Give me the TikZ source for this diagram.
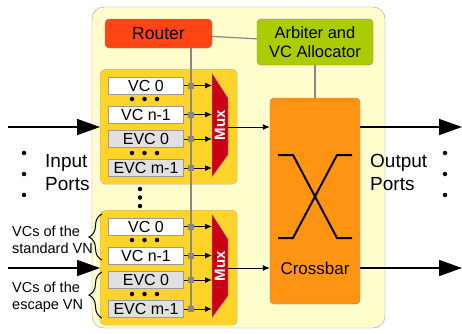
\documentclass[tikz,border=0pt]{standalone}
\usepackage{fontspec}
\setmainfont{Liberation Sans}
\usetikzlibrary{arrows.meta,decorations.pathreplacing}

\definecolor{shell}{HTML}{FFFDCC}
\definecolor{bufgold}{HTML}{FFD42A}
\definecolor{routred}{HTML}{FF4513}
\definecolor{arbgreen}{HTML}{AACC00}
\definecolor{xbarorange}{HTML}{FF9414}
\definecolor{muxred}{HTML}{CC0015}
\definecolor{evcgray}{HTML}{E0E0E0}
\definecolor{wiregray}{HTML}{888888}

\tikzset{
  unit/.style={draw=wiregray, rounded corners=4pt, inner sep=0pt, align=center},
  buffer/.style={draw=gray!60, fill=bufgold, rounded corners=5pt, anchor=north west,
    minimum width=137pt, minimum height=115pt},
  vcbox/.style={draw=gray!80, fill=white, minimum width=75pt, minimum height=17pt,
    inner sep=0pt, font=\fontsize{16}{16}\selectfont},
  evcbox/.style={vcbox, fill=evcgray},
  tap/.style={fill=wiregray, minimum size=6pt, inner sep=0pt},
  blob/.style={circle, fill=black, minimum size=4.5pt, inner sep=0pt},
  wire/.style={draw=wiregray, line width=1.2pt},
  small/.style={-{Latex[length=7pt,width=6pt]}, line width=1pt},
  portarrow/.style={-{Triangle[length=23pt,width=16pt]}, line width=1.6pt},
  vnbrace/.style={decorate, decoration={brace,amplitude=13pt}, line width=1pt},
  lbl/.style={align=left, anchor=west, inner sep=0pt}
}

\begin{document}
\begin{tikzpicture}[x=1pt,y=-1pt]
\useasboundingbox (0,0) rectangle (462,333);

% router shell
\draw[draw=gray!80, fill=shell, rounded corners=12pt] (92,7) rectangle (385,328);

\node[unit, fill=routred, minimum width=107pt, minimum height=29pt,
  font=\fontsize{17.5}{17.5}\selectfont] (router) at (158.5,33.5) {Router};
\node[unit, fill=arbgreen, minimum width=116pt, minimum height=46pt,
  font=\fontsize{16.5}{19}\selectfont] (arbiter) at (315,42) {Arbiter and\\VC Allocator};
\node[unit, fill=xbarorange, minimum width=90pt, minimum height=206pt] (xbar) at (315,201) {};
\node[font=\fontsize{17}{17}\selectfont] (xbarname) at (315,268) {Crossbar};
\draw[line width=2pt] (278,155) -- (293,155) -- (337,238) -- (352,238);
\draw[line width=2pt] (278,238) -- (293,238) -- (337,155) -- (352,155);

\draw[wire] (router) -- (arbiter);
\draw[wire] (arbiter) -- (xbar);

% input buffers, mux and ports
\foreach \b/\t in {a/69, b/210} {
  \node[buffer] (buf\b) at (100,\t) {};
  \draw[draw=gray!70, fill=muxred] (212,\t+4) -- (228,\t+29) -- (228,\t+86) -- (212,\t+108) -- cycle;
  \node[rotate=90, text=white, font=\fontsize{15}{15}\selectfont\bfseries] (mux\b) at (220,\t+56) {Mux};
  \coordinate (muxin\b) at (212,\t);
  \coordinate (muxout\b) at (228,\t+58);
  \coordinate (in\b) at (8,\t+58);
  \coordinate (out\b) at (462,\t+58);
  \coordinate (bus\b) at (191,\t+99);
  \draw[small] (muxout\b) -- (muxout\b -| xbar.west);
  \draw[portarrow] (muxout\b -| xbar.east) -- (out\b);
  \draw[portarrow] (in\b) -- (in\b -| buf\b.west);
  \foreach \x in {132,144.5,157} {
    \node[blob] at (\x,\t+30) {};
    \node[blob] at (\x,\t+84) {};
  }
}

\draw[wire] (busb |- router.south) -- (busb);

\foreach \b/\t in {a/69, b/210} {
  \foreach \n/\dy/\s/\txt in {0/16.5/vcbox/VC 0, 1/45.5/vcbox/VC n-1,
      2/70/evcbox/EVC 0, 3/99/evcbox/EVC m-1} {
    \node[\s] (vc\b\n) at (146,\t+\dy) {\txt};
    \node[tap] (tap\b\n) at (191,\t+\dy) {};
    \draw[line width=1pt] (vc\b\n) -- (tap\b\n);
    \draw[small] (tap\b\n) -- (tap\b\n -| muxin\b);
  }
}

% dots
\foreach \y in {189,197.5,206} \node[blob] at (140,\y) {};
\foreach \y in {153,174,195} {
  \node[blob] at (24,\y) {};
  \node[blob] at (445,\y) {};
}

\node[lbl, font=\fontsize{19}{23}\selectfont] (inports) at (45,173) {Input\\Ports};
\node[lbl, font=\fontsize{19}{23}\selectfont] (outports) at (370,172) {Output\\Ports};

% virtual networks
\draw[vnbrace] (102,260) -- (102,214);
\draw[vnbrace] (102,318) -- (102,272);
\node[lbl, font=\fontsize{14.5}{17}\selectfont] (stdvn) at (12,240) {VCs of the\\standard VN};
\node[lbl, font=\fontsize{14.5}{17}\selectfont] (escvn) at (12,297) {VCs of the\\escape VN};
\end{tikzpicture}
\end{document}
